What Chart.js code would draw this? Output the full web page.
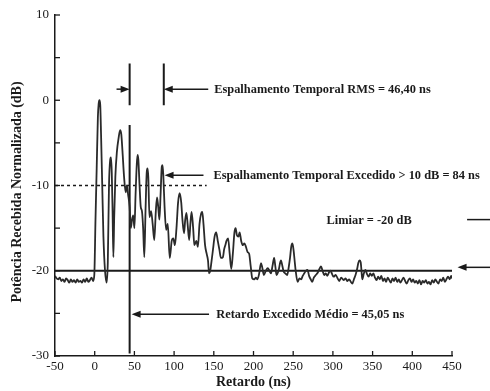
<!DOCTYPE html>
<html>
<head>
<meta charset="utf-8">
<script src="https://cdn.jsdelivr.net/npm/chart.js@4.4.1/dist/chart.umd.min.js"></script>
<style>
  html, body { margin: 0; padding: 0; background: #fff; }
</style>
</head>
<body>
<canvas id="pdp" width="490" height="391"></canvas>
<script>
// power delay profile (delay in ns, power in dB)
const delayNs = [
  -50, -48, -46, -44, -42, -40, -38, -36, -34, -32, -30, -28, -26, -24, -22, -20, -18, -16, -14, -12,
  -10, -8, -6, -4, -2, -0.5, 1, 2.5, 4, 5, 6, 7, 8, 9.5, 11, 13, 15, 16.5, 18, 19.5,
  20.5, 21.5, 22.5, 23.5, 24.5, 26, 28, 30, 32, 33.5, 35, 37, 39, 40.5, 42, 44, 45.5, 47, 48.5, 50,
  51.5, 53, 54, 55, 56.5, 58, 59.5, 61, 62.5, 64, 65.5, 66.5, 67.5, 69, 71, 73, 75, 77, 78.5, 80,
  81.5, 83, 84.5, 85.5, 86.5, 88, 90, 92, 94.5, 97, 99, 101, 103, 105, 107, 109, 110.5, 112.5, 114, 115.5,
  117, 119, 120.5, 122, 124, 125.5, 128, 130, 132, 134, 135.5, 137, 139, 141, 142.7, 144, 145.5, 147, 149, 151,
  153, 155, 157, 159, 161.5, 163, 164.5, 166, 168, 170, 172, 174, 176, 177.5, 179, 181, 182.5, 184.5, 186.5, 188.5,
  190.5, 192.5, 194.5, 196.5, 198.5, 201, 203, 205, 207, 209.5, 211, 213, 215.5, 218, 220, 222, 224, 226, 227.5, 229,
  231.5, 234.5, 236.5, 238, 240, 242.5, 244.5, 246, 247.5, 249, 250.5, 252, 253, 255.5, 258, 260, 262, 264, 266, 268,
  270, 272, 274, 276, 278.5, 281, 283, 285, 287, 289, 291, 293, 295, 297, 299, 301, 303.5, 306, 308, 310.5,
  313.5, 316, 318, 320.5, 322.5, 324.5, 326.5, 328.5, 330.5, 332, 333.5, 335, 336, 337, 339, 341, 343, 345, 347, 349,
  351, 353, 355, 357, 359, 361, 363, 365, 367, 369, 371, 373, 375, 377, 379, 381, 383, 385, 387, 389,
  391, 393, 395, 397, 399, 401, 403, 405, 407, 409, 411, 413, 415, 417, 419, 421, 423, 425, 427, 429,
  431, 433, 435, 437, 439, 441, 443, 445, 447, 449, 450
];
const powerDb = [
  -20.6, -20.9, -21.0, -20.8, -21.2, -21.0, -21.3, -20.9, -21.1, -21.4, -21.0, -21.3, -21.1, -21.4, -21.0, -21.3, -21.2, -21.4, -21.0, -21.3,
  -20.9, -21.3, -21.1, -20.8, -21.2, -20.5, -14, -8, -2, -0.4, 0, -0.6, -4, -10, -16, -20, -21.4, -19, -10, -7,
  -6.7, -8.5, -13, -18.4, -14, -9, -6, -4.5, -3.5, -4, -6, -9, -10.8, -10, -11, -12.5, -15, -14, -13.5, -15,
  -11, -7.5, -6.4, -7, -10, -12.5, -13, -15, -18.4, -13, -8.5, -8, -9, -13.7, -13, -14.5, -16.4, -13, -11.4, -12.5,
  -14, -11, -7.8, -7.6, -9, -12.5, -15.2, -14.5, -18.5, -16.5, -16.2, -17, -15, -12, -10.9, -12, -14, -15.6, -14, -13.2,
  -14.5, -16.4, -14.5, -13.1, -15, -17, -16.5, -17.2, -14.5, -13.3, -13.1, -14.5, -17, -18, -18.8, -20.3, -20, -19, -17.5, -16,
  -15.5, -16.5, -17.5, -18.5, -18.4, -17.5, -17, -16.5, -16.2, -18, -19.8, -18, -15.5, -15, -15.8, -16, -15.5, -16.5, -17, -16.8,
  -17.2, -17.8, -18, -19.5, -20.9, -21, -20.8, -21, -20.4, -19.1, -19.6, -20.5, -20, -19.7, -20, -20.3, -19.4, -18.5, -19.5, -20.5,
  -20, -18.8, -19.5, -20.1, -20.3, -20.5, -19.5, -18.5, -17.2, -16.8, -17.6, -19, -19.9, -21.3, -20.9, -21, -20.6, -20.3, -20, -19.9,
  -20.6, -21, -21.3, -20.8, -20.5, -20.2, -19.8, -19.5, -20, -20.5, -20.3, -20.6, -20.2, -20, -20.4, -20.7, -20.5, -20.9, -21.2, -20.8,
  -21.1, -20.9, -21.2, -21.0, -21.3, -21.5, -21.0, -20.5, -19.8, -19.1, -18.8, -19, -20, -21, -20.3, -19.9, -20.4, -20.7, -20.3, -20.6,
  -20.3, -20.8, -21.1, -20.7, -21.0, -20.6, -21.2, -20.9, -21.3, -20.8, -21.1, -21.4, -20.9, -21.2, -20.8, -21.3, -21.0, -21.4, -21.1, -20.8,
  -21.2, -21.5, -21.1, -20.9, -21.3, -21.0, -21.4, -21.2, -21.5, -21.1, -21.6, -21.2, -21.4, -21.1, -21.5, -21.3, -21.6, -21.1, -21.4, -21.0,
  -21.3, -21.5, -21.0, -21.2, -20.8, -21.3, -21.0, -20.7, -21.0, -20.6, -20.9
];

// reference marks
const thresholdDb = -20;
const thresholdSpanNs = [-50, 450];
const excessLevelDb = -10;
const excessSpanNs = [-50, 141];
const meanDelayNs = 44;
const meanDelayRangeDb = [-2.9, -29.7];
const rmsMarkersNs = [44, 87];
const rmsMarkerRangeDb = [4.3, -0.6];

// axis ticks
const xTickValues = [-50, 0, 50, 100, 150, 200, 250, 300, 350, 400, 450];
const yTickValues = [-30, -25, -20, -15, -10, -5, 0, 5, 10];

const serif = '"Liberation Serif", "Times New Roman", serif';
const ink = "#1a1a1a";
const yTitle = "Potência Recebida Normalizada (dB)";

// annotation layout, in axis units
const notes = {
  rms: { text: "Espalhamento Temporal RMS = 46,40 ns", x: 150.5, y: 1.3, arrows: [[27.5, 44], [143, 87]] },
  excess: { text: "Espalhamento Temporal Excedido > 10 dB = 84 ns", x: 149.5, y: -8.8, arrows: [[137, 88]] },
  threshold: { text: "Limiar = -20 dB", x: 292, y: -14.0 },
  mean: { text: "Retardo Excedido Médio = 45,05 ns", x: 153, y: -25.1, arrows: [[144, 46.5]] },
};

function seg(xs, ys) {
  return xs.map((x, i) => ({ x, y: ys[i] }));
}

function drawArrow(ctx, x1, y, x2) {
  const dir = Math.sign(x2 - x1);
  ctx.beginPath();
  ctx.moveTo(x1, y);
  ctx.lineTo(x2 - dir * 4, y);
  ctx.stroke();
  ctx.beginPath();
  ctx.moveTo(x2, y);
  ctx.lineTo(x2 - dir * 9, y - 3.5);
  ctx.lineTo(x2 - dir * 9, y + 3.5);
  ctx.closePath();
  ctx.fill();
}

const annotations = {
  id: "annotations",
  afterDatasetsDraw(chart) {
    const { ctx, chartArea } = chart;
    const xs = chart.scales.x;
    const ys = chart.scales.y;
    ctx.save();
    ctx.strokeStyle = ink;
    ctx.fillStyle = ink;

    // inward tick marks
    ctx.lineWidth = 1.3;
    for (const v of yTickValues) {
      const py = ys.getPixelForValue(v);
      ctx.beginPath();
      ctx.moveTo(chartArea.left, py);
      ctx.lineTo(chartArea.left + 5, py);
      ctx.stroke();
    }
    for (const v of xTickValues) {
      const px = xs.getPixelForValue(v);
      ctx.beginPath();
      ctx.moveTo(px, chartArea.bottom);
      ctx.lineTo(px, chartArea.bottom - 5);
      ctx.stroke();
    }

    // arrows and texts
    ctx.lineWidth = 1.5;
    ctx.font = "bold 12.4px " + serif;
    ctx.textBaseline = "middle";
    for (const n of Object.values(notes)) {
      const py = ys.getPixelForValue(n.y);
      for (const [from, to] of n.arrows || []) {
        drawArrow(ctx, xs.getPixelForValue(from), py, xs.getPixelForValue(to));
      }
      ctx.fillText(n.text, xs.getPixelForValue(n.x), py + 1);
    }

    // marks on the right margin
    const yLim = ys.getPixelForValue(-14.0);
    ctx.beginPath();
    ctx.moveTo(xs.getPixelForValue(469), yLim);
    ctx.lineTo(xs.getPixelForValue(500), yLim);
    ctx.stroke();
    drawArrow(ctx, xs.getPixelForValue(500), ys.getPixelForValue(-19.6), xs.getPixelForValue(457));

    // y axis title
    ctx.translate(17, 192);
    ctx.rotate(-Math.PI / 2);
    ctx.textAlign = "center";
    ctx.font = "bold 14px " + serif;
    ctx.fillText(yTitle, 0, 0);
    ctx.restore();
  },
};

const lineStyle = { pointRadius: 0, borderColor: ink, fill: false };

new Chart(document.getElementById("pdp"), {
  type: "line",
  data: {
    datasets: [
      { data: seg(delayNs, powerDb), ...lineStyle, borderColor: "#2a2a2a", borderWidth: 1.8, cubicInterpolationMode: "monotone" },
      { data: seg(thresholdSpanNs, [thresholdDb, thresholdDb]), ...lineStyle, borderWidth: 2 },
      { data: seg(excessSpanNs, [excessLevelDb, excessLevelDb]), ...lineStyle, borderWidth: 1.5, borderDash: [3, 3] },
      { data: seg([meanDelayNs, meanDelayNs], meanDelayRangeDb), ...lineStyle, borderWidth: 2 },
      { data: seg([rmsMarkersNs[0], rmsMarkersNs[0]], rmsMarkerRangeDb), ...lineStyle, borderWidth: 2 },
      { data: seg([rmsMarkersNs[1], rmsMarkersNs[1]], rmsMarkerRangeDb), ...lineStyle, borderWidth: 2 },
    ],
  },
  options: {
    responsive: false,
    animation: false,
    layout: { padding: { top: 15, right: 38, left: 0, bottom: 0 } },
    plugins: { legend: { display: false }, tooltip: { enabled: false } },
    scales: {
      x: {
        type: "linear",
        min: -50,
        max: 450,
        afterFit: (scale) => { scale.height = 35; },
        grid: { display: false, drawTicks: false },
        border: { color: ink, width: 1.5 },
        ticks: { stepSize: 50, padding: 3, color: ink, font: { family: serif, size: 13 } },
        title: { display: true, text: "Retardo (ns)", color: ink, padding: 0, font: { family: serif, size: 14, weight: "bold" } },
      },
      y: {
        min: -30,
        max: 10,
        afterFit: (scale) => { scale.width = 55; },
        grid: { display: false, drawTicks: false },
        border: { color: ink, width: 1.5 },
        ticks: { stepSize: 10, padding: 6, color: ink, font: { family: serif, size: 13 } },
      },
    },
  },
  plugins: [annotations],
});
</script>
</body>
</html>
